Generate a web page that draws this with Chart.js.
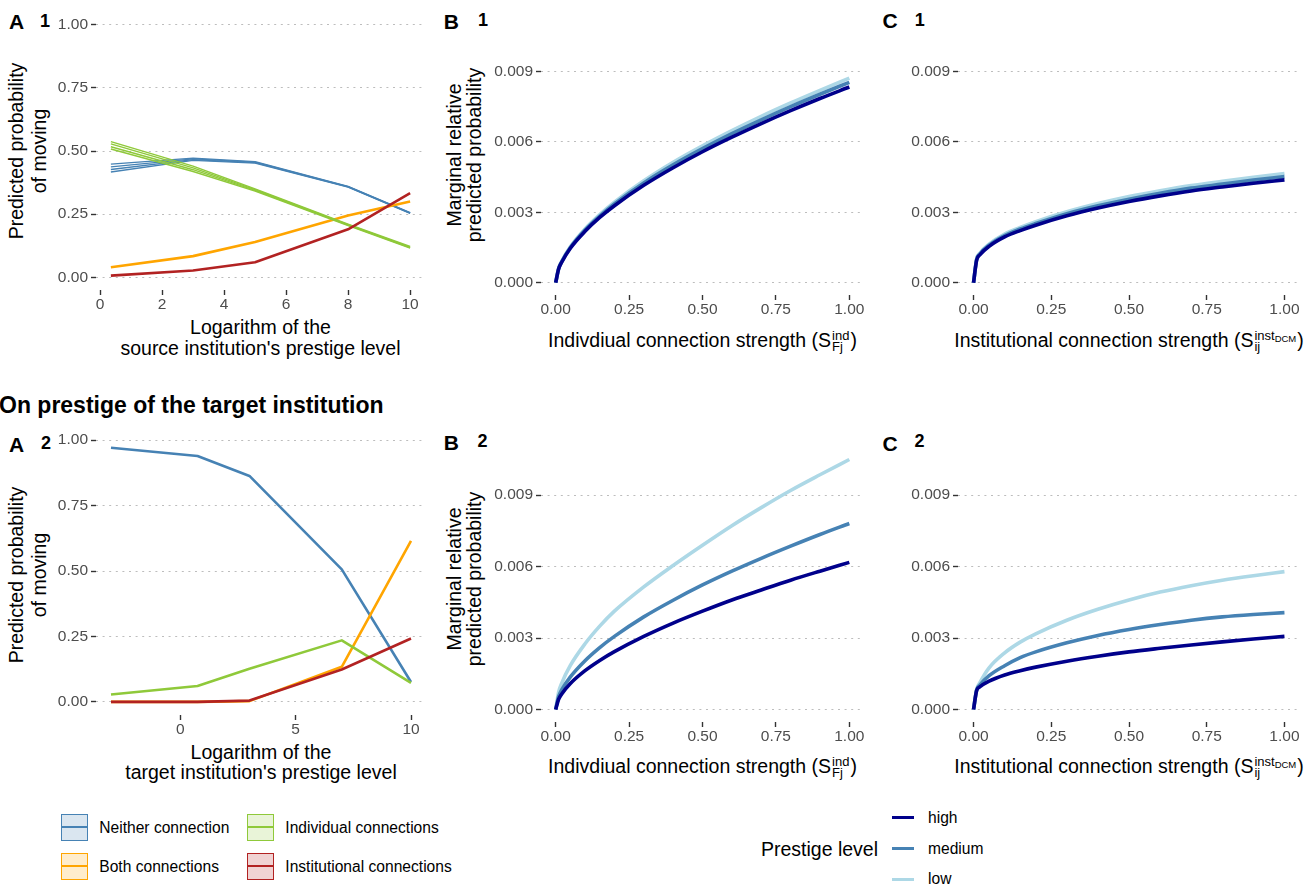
<!DOCTYPE html>
<html>
<head>
<meta charset="utf-8">
<title>Predicted probability of moving</title>
<script src="https://cdn.jsdelivr.net/npm/chart.js@4.4.1/dist/chart.umd.min.js"></script>
<style>
  body { margin: 0; background: #fff; font-family: "Liberation Sans", Arial, sans-serif; }
  #fig { position: relative; width: 1314px; height: 889px; overflow: hidden; }
  #fig canvas { position: absolute; }
  .txt { position: absolute; white-space: nowrap; color: #000; }
  .tag { font-weight: bold; }
  .xtitle { font-size: 19.5px; line-height: 21px; text-align: center; transform: translateX(-50%); }
  .ytitle { font-size: 19.5px; text-align: center; transform: translate(-50%, -50%) rotate(-90deg); }
  .ss { display: inline-block; vertical-align: -4px; font-size: 13px; line-height: 11px; margin: 0 1px; text-align: left; }
  .ss > span { display: block; }
  .dcm { font-size: 9.5px; line-height: 0; vertical-align: -2px; }
  .leg { font-size: 15.6px; }
</style>
</head>
<body>
<div id="fig">
  <!-- panel tags -->
  <div class="txt tag" style="left:9px;top:10.6px;font-size:21px;line-height:21px">A</div>
  <div class="txt tag" style="left:40px;top:12.2px;font-size:18px;line-height:18px">1</div>
  <div class="txt tag" style="left:443.7px;top:10.6px;font-size:21px;line-height:21px">B</div>
  <div class="txt tag" style="left:478px;top:11.2px;font-size:18px;line-height:18px">1</div>
  <div class="txt tag" style="left:882.4px;top:9.8px;font-size:21px;line-height:21px">C</div>
  <div class="txt tag" style="left:914.8px;top:10.6px;font-size:18px;line-height:18px">1</div>

  <div class="txt tag" style="left:-1px;top:394.3px;font-size:23px;line-height:23px">On prestige of the target institution</div>

  <div class="txt tag" style="left:9px;top:434px;font-size:21px;line-height:21px">A</div>
  <div class="txt tag" style="left:41px;top:434px;font-size:18px;line-height:18px">2</div>
  <div class="txt tag" style="left:443.7px;top:432.3px;font-size:21px;line-height:21px">B</div>
  <div class="txt tag" style="left:477.5px;top:432.3px;font-size:18px;line-height:18px">2</div>
  <div class="txt tag" style="left:882.4px;top:433px;font-size:21px;line-height:21px">C</div>
  <div class="txt tag" style="left:914.5px;top:432.3px;font-size:18px;line-height:18px">2</div>

  <!-- y axis titles -->
  <div class="txt ytitle" style="left:28px;top:151px;line-height:23px">Predicted probability<br>of moving</div>
  <div class="txt ytitle" style="left:28px;top:575px;line-height:23px">Predicted probability<br>of moving</div>
  <div class="txt ytitle" style="left:464px;top:155px;line-height:20px">Marginal relative<br>predicted probability</div>
  <div class="txt ytitle" style="left:464px;top:579px;line-height:20px">Marginal relative<br>predicted probability</div>

  <!-- x axis titles -->
  <div class="txt xtitle" style="left:260.5px;top:316.7px">Logarithm of the<br>source institution's prestige level</div>
  <div class="txt xtitle" style="left:261px;top:741.7px;line-height:20.5px">Logarithm of the<br>target institution's prestige level</div>
  <div class="txt xtitle" style="left:702.5px;top:330px">Indivdiual connection strength (S<span class="ss"><span>ind</span><span>Fj</span></span>)</div>
  <div class="txt xtitle" style="left:702.5px;top:756px">Indivdiual connection strength (S<span class="ss"><span>ind</span><span>Fj</span></span>)</div>
  <div class="txt xtitle" style="left:1129px;top:330px">Institutional connection strength (S<span class="ss"><span>inst<span class="dcm">DCM</span></span><span>ij</span></span>)</div>
  <div class="txt xtitle" style="left:1129px;top:756px">Institutional connection strength (S<span class="ss"><span>inst<span class="dcm">DCM</span></span><span>ij</span></span>)</div>
</div>

<script>
// ---- data: panel A (predicted probability of moving) ----
const connNames = ['Neither connection', 'Both connections', 'Individual connections', 'Institutional connections'];
const connColors = ['#4682b4', '#ffa500', '#8fc93a', '#b22222'];

const a1X = [0.35, 3, 5, 8, 10];
const a1Neither = [
    [0.448, 0.472, 0.458, 0.360, 0.256],
    [0.437, 0.469, 0.456, 0.359, 0.255],
    [0.427, 0.466, 0.454, 0.358, 0.254],
    [0.417, 0.463, 0.452, 0.357, 0.253]
];
const a1Individual = [
    [0.537, 0.440, 0.350, 0.211, 0.122],
    [0.528, 0.433, 0.347, 0.209, 0.120],
    [0.517, 0.426, 0.344, 0.207, 0.118],
    [0.508, 0.419, 0.341, 0.205, 0.116]
];
const a1Both = [0.040, 0.084, 0.140, 0.245, 0.300];
const a1Institutional = [0.007, 0.027, 0.060, 0.190, 0.333];

const a2X = [-3, 0.75, 3, 7, 10];
const a2Neither = [0.971, 0.939, 0.863, 0.506, 0.076];
const a2Individual = [0.028, 0.061, 0.127, 0.235, 0.073];
const a2Both = [0.000, 0.000, 0.003, 0.134, 0.615];
const a2Institutional = [0.000, 0.000, 0.005, 0.124, 0.242];

const a1TicksX = [0, 2, 4, 6, 8, 10];
const a2TicksX = [0, 5, 10];
const aTicksY = [0, 0.25, 0.5, 0.75, 1];

// ---- data: panels B and C (marginal relative predicted probability) ----
const prestigeNames = ['high', 'medium', 'low'];
const prestigeColors = ['#00008b', '#4682b4', '#add8e6'];

const strengthX = [0, 0.01, 0.02, 0.05, 0.1, 0.15, 0.2, 0.3, 0.4, 0.5, 0.6, 0.7, 0.8, 0.9, 1];

const b1High   = [0, 0.00058, 0.00086, 0.00147, 0.00219, 0.00278, 0.00328, 0.00415, 0.00490, 0.00558, 0.00620, 0.00678, 0.00733, 0.00785, 0.00834];
const b1Medium = [0, 0.00059, 0.00088, 0.00150, 0.00225, 0.00284, 0.00336, 0.00425, 0.00502, 0.00571, 0.00635, 0.00694, 0.00750, 0.00803, 0.00854];
const b1Low    = [0, 0.00060, 0.00090, 0.00153, 0.00229, 0.00290, 0.00343, 0.00434, 0.00513, 0.00583, 0.00648, 0.00709, 0.00766, 0.00820, 0.00872];

const c1High   = [0, 0.00096, 0.00118, 0.00155, 0.00195, 0.00222, 0.00245, 0.00285, 0.00318, 0.00346, 0.00370, 0.00391, 0.00408, 0.00424, 0.00438];
const c1Medium = [0, 0.00099, 0.00122, 0.00160, 0.00201, 0.00229, 0.00252, 0.00294, 0.00328, 0.00356, 0.00381, 0.00403, 0.00420, 0.00437, 0.00452];
const c1Low    = [0, 0.00102, 0.00125, 0.00164, 0.00207, 0.00235, 0.00260, 0.00302, 0.00337, 0.00367, 0.00392, 0.00414, 0.00432, 0.00449, 0.00465];

const b2High   = [0, 0.00043, 0.00064, 0.00109, 0.00163, 0.00206, 0.00243, 0.00307, 0.00363, 0.00413, 0.00460, 0.00502, 0.00543, 0.00581, 0.00618];
const b2Medium = [0, 0.00054, 0.00081, 0.00137, 0.00205, 0.00260, 0.00307, 0.00389, 0.00459, 0.00523, 0.00581, 0.00635, 0.00686, 0.00735, 0.00781];
const b2Low    = [0, 0.00073, 0.00109, 0.00185, 0.00276, 0.00350, 0.00413, 0.00515, 0.00605, 0.00690, 0.00772, 0.00848, 0.00920, 0.00986, 0.01050];

const c2High   = [0, 0.00080, 0.00095, 0.00119, 0.00145, 0.00163, 0.00178, 0.00203, 0.00224, 0.00242, 0.00257, 0.00271, 0.00284, 0.00296, 0.00307];
const c2Medium = [0, 0.00082, 0.00102, 0.00142, 0.00184, 0.00218, 0.00242, 0.00280, 0.00311, 0.00336, 0.00357, 0.00375, 0.00389, 0.00399, 0.00407];
const c2Low    = [0, 0.00084, 0.00112, 0.00175, 0.00238, 0.00283, 0.00318, 0.00375, 0.00421, 0.00460, 0.00493, 0.00520, 0.00543, 0.00562, 0.00579];

const strengthTicksX = [0, 0.25, 0.5, 0.75, 1];
const strengthTicksY = [0, 0.003, 0.006, 0.009];

// ---- drawing ----
const FONT = '"Liberation Sans", Arial, sans-serif';
Chart.defaults.font.family = FONT;
Chart.defaults.color = '#4d4d4d';

const Y_W = 70, X_H = 32, PAD_T = 12, PAD_R = 24;
const fig = document.getElementById('fig');

function lineSet(xs, ys, color, width, order, smooth) {
    return {
        data: xs.map((x, i) => ({ x: x, y: ys[i] })),
        borderColor: color,
        borderWidth: width,
        order: order,
        pointRadius: 0,
        fill: false,
        borderJoinStyle: 'round',
        tension: 0,
        cubicInterpolationMode: smooth ? 'monotone' : 'default'
    };
}

function makePanel(box, xr, xTicks, xDigits, yr, yTicks, yDigits, datasets) {
    const c = document.createElement('canvas');
    const w = box.right - box.left + Y_W + PAD_R;
    const h = box.bottom - box.top + PAD_T + X_H;
    c.width = w; c.height = h;
    c.style.left = (box.left - Y_W) + 'px';
    c.style.top = (box.top - PAD_T) + 'px';
    c.style.width = w + 'px';
    c.style.height = h + 'px';
    fig.appendChild(c);

    new Chart(c, {
        type: 'line',
        data: { datasets: datasets },
        options: {
            responsive: false,
            animation: false,
            devicePixelRatio: 1,
            layout: { padding: { left: 0, top: PAD_T, right: PAD_R, bottom: 0 }, autoPadding: false },
            plugins: { legend: { display: false }, tooltip: { enabled: false } },
            scales: {
                x: {
                    type: 'linear',
                    min: xr[0], max: xr[1],
                    afterBuildTicks: s => { s.ticks = xTicks.map(v => ({ value: v })); },
                    afterFit: s => { s.height = X_H; s.paddingLeft = 0; s.paddingRight = 0; },
                    grid: { drawOnChartArea: false, drawTicks: true, tickLength: 5, tickColor: '#333333', tickWidth: 1.4 },
                    border: { display: false },
                    ticks: {
                        color: '#4d4d4d', padding: 0, maxRotation: 0, autoSkip: false,
                        font: { size: 15.5 },
                        callback: v => v.toFixed(xDigits)
                    }
                },
                y: {
                    type: 'linear',
                    min: yr[0], max: yr[1],
                    afterBuildTicks: s => { s.ticks = yTicks.map(v => ({ value: v })); },
                    afterFit: s => { s.width = Y_W; s.paddingTop = 0; s.paddingBottom = 0; },
                    grid: { drawOnChartArea: true, color: '#bdbdbd', lineWidth: 1, drawTicks: true, tickLength: 5, tickColor: '#333333', tickWidth: 1.4 },
                    border: { display: false, dash: [2, 4.6] },
                    ticks: {
                        color: '#4d4d4d', padding: 3, autoSkip: false,
                        font: { size: 15.5 },
                        callback: v => v.toFixed(yDigits)
                    }
                }
            }
        }
    });
}

// panel A1
const a1Sets = [];
a1Neither.forEach(ys => a1Sets.push(lineSet(a1X, ys, connColors[0], 1.4, 3, false)));
a1Sets.push(lineSet(a1X, a1Both, connColors[1], 2.6, 2, false));
a1Individual.forEach(ys => a1Sets.push(lineSet(a1X, ys, connColors[2], 1.4, 1, false)));
a1Sets.push(lineSet(a1X, a1Institutional, connColors[3], 2.6, 0, false));
makePanel({ left: 96, right: 425, top: 12, bottom: 290 }, [-0.13, 10.48], a1TicksX, 0, [-0.05, 1.05], aTicksY, 2, a1Sets);

// panel A2
makePanel({ left: 96, right: 426, top: 427, bottom: 715 }, [-3.65, 10.65], a2TicksX, 0, [-0.05, 1.05], aTicksY, 2, [
    lineSet(a2X, a2Neither, connColors[0], 2.6, 3, false),
    lineSet(a2X, a2Both, connColors[1], 2.6, 2, false),
    lineSet(a2X, a2Individual, connColors[2], 2.6, 1, false),
    lineSet(a2X, a2Institutional, connColors[3], 2.6, 0, false)
]);

function prestigeSets(high, medium, low) {
    return [
        lineSet(strengthX, low, prestigeColors[2], 3.6, 2, true),
        lineSet(strengthX, medium, prestigeColors[1], 3.6, 1, true),
        lineSet(strengthX, high, prestigeColors[0], 3.6, 0, true)
    ];
}
const strengthRangeY = [-0.000525, 0.011025];

makePanel({ left: 541, right: 864, top: 24, bottom: 295 }, [-0.05, 1.05], strengthTicksX, 2, strengthRangeY, strengthTicksY, 3, prestigeSets(b1High, b1Medium, b1Low));
makePanel({ left: 958, right: 1300, top: 24, bottom: 295 }, [-0.05, 1.05], strengthTicksX, 2, strengthRangeY, strengthTicksY, 3, prestigeSets(c1High, c1Medium, c1Low));
makePanel({ left: 541, right: 864, top: 447, bottom: 722 }, [-0.05, 1.05], strengthTicksX, 2, strengthRangeY, strengthTicksY, 3, prestigeSets(b2High, b2Medium, b2Low));
makePanel({ left: 958, right: 1300, top: 447, bottom: 722 }, [-0.05, 1.05], strengthTicksX, 2, strengthRangeY, strengthTicksY, 3, prestigeSets(c2High, c2Medium, c2Low));

// ---- legends ----
function hexA(hex, a) {
    const n = parseInt(hex.slice(1), 16);
    return 'rgba(' + (n >> 16) + ',' + ((n >> 8) & 255) + ',' + (n & 255) + ',' + a + ')';
}

connNames.forEach((name, i) => {
    const col = Math.floor(i / 2), row = i % 2;
    const left = 61 + col * 186, top = 814 + row * 38.7;
    const box = document.createElement('div');
    box.style.cssText = 'position:absolute;box-sizing:border-box;left:' + left + 'px;top:' + top + 'px;width:27px;height:27px;' +
        'border:1.6px solid ' + connColors[i] + ';background:' + hexA(connColors[i], 0.2) + ';';
    const ln = document.createElement('div');
    ln.style.cssText = 'position:absolute;left:0;right:0;top:10.9px;height:2.6px;background:' + connColors[i] + ';';
    box.appendChild(ln);
    fig.appendChild(box);
    const t = document.createElement('div');
    t.className = 'txt leg';
    t.style.cssText = 'left:' + (left + 38.3) + 'px;top:' + top + 'px;line-height:27px;';
    t.textContent = name;
    fig.appendChild(t);
});

const pTitle = document.createElement('div');
pTitle.className = 'txt';
pTitle.style.cssText = 'right:436px;top:837px;line-height:24px;font-size:19.5px;';
pTitle.textContent = 'Prestige level';
fig.appendChild(pTitle);

prestigeNames.forEach((name, i) => {
    const cy = 817.7 + i * 30.8;
    const ln = document.createElement('div');
    ln.style.cssText = 'position:absolute;left:892px;width:21.5px;top:' + (cy - 1.8) + 'px;height:3.6px;background:' + prestigeColors[i] + ';';
    fig.appendChild(ln);
    const t = document.createElement('div');
    t.className = 'txt leg';
    t.style.cssText = 'left:928px;top:' + (cy - 12) + 'px;line-height:24px;';
    t.textContent = name;
    fig.appendChild(t);
});
</script>
</body>
</html>
